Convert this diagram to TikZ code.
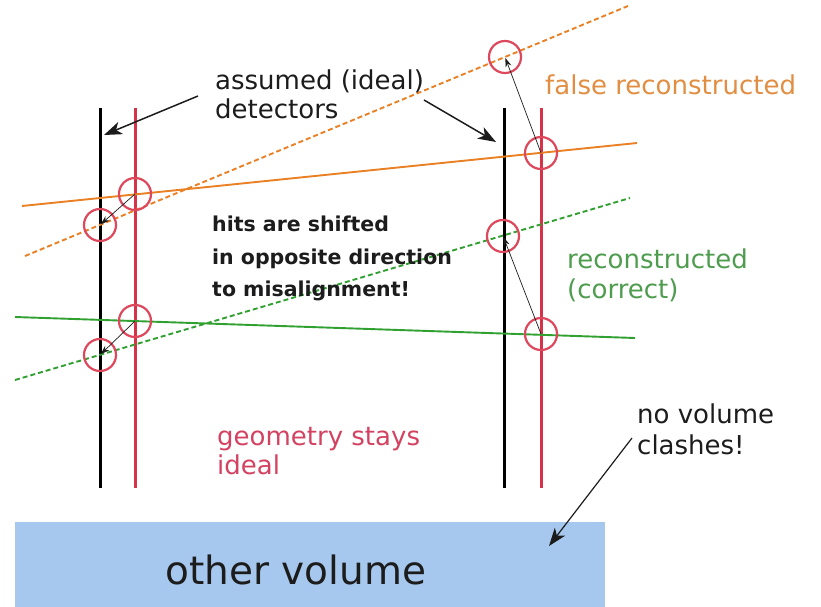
\documentclass[tikz,border=0pt]{standalone}
\usepackage{fontspec}
\setmainfont{DejaVu Sans}
\usetikzlibrary{arrows.meta}
\definecolor{orangeL}{RGB}{234,128,36}
\definecolor{orangeT}{RGB}{226,142,66}
\definecolor{redD}{RGB}{214,50,72}
\definecolor{circ}{RGB}{222,72,92}
\definecolor{greenL}{RGB}{48,160,48}
\definecolor{greenT}{RGB}{78,156,78}
\definecolor{redT}{RGB}{212,66,98}
\definecolor{blueV}{RGB}{166,200,238}
\definecolor{ink}{RGB}{28,28,28}
\tikzset{
  det/.style={line width=3pt},
  trk/.style={line width=1.9pt},
  trkdash/.style={line width=1.9pt, dash pattern=on 5pt off 3pt},
  hit/.style={circle, draw=circ, line width=2.2pt, minimum size=32pt, inner sep=0pt},
  shift arrow/.style={ink, line width=0.7pt, -{Stealth[length=9pt,width=6pt]}, shorten >=1pt},
  big arrow/.style={ink, line width=1.5pt, -{Stealth[length=18pt,width=13pt,inset=5pt]}},
  lbl/.style={anchor=base west, inner sep=0pt, font=\fontsize{26}{29}\selectfont},
  bold lbl/.style={anchor=base west, inner sep=0pt, font=\fontsize{20.5}{24}\selectfont\bfseries, text=ink},
}
\begin{document}
\begin{tikzpicture}[x=1pt,y=-1pt]
\useasboundingbox (0,0) rectangle (821,607);
% other volume
\node[fill=blueV, minimum width=590pt, minimum height=86pt, inner sep=0pt, anchor=north west] (vol) at (15,522) {};
\node[anchor=base, inner sep=0pt, font=\fontsize{39}{42}\selectfont, text=ink] (volt) at (296,584) {other volume};
% detectors
\draw[det, black] (100,108) coordinate (b1t) -- (100,488) coordinate (b1b);
\draw[det, redD] (135,108) coordinate (r1t) -- (135,488) coordinate (r1b);
\draw[det, black] (504,108) coordinate (b2t) -- (504,488) coordinate (b2b);
\draw[det, redD] (541,108) coordinate (r2t) -- (541,488) coordinate (r2b);
% tracks
\draw[trk, orangeL] (22,206) coordinate (oa) -- (637,143) coordinate (ob);
\draw[trkdash, orangeL] (25,256) coordinate (oda) -- (628,6) coordinate (odb);
\draw[trk, greenL] (15,317) coordinate (ga) -- (635,338) coordinate (gb);
\draw[trkdash, greenL] (15,380) coordinate (gda) -- (630,198) coordinate (gdb);
% hits
\node[hit] (hO1) at (135,194) {};
\node[hit] (hO1s) at (100,225) {};
\node[hit] (hO2) at (541,153) {};
\node[hit] (hO2s) at (505,57) {};
\node[hit] (hG1) at (135,321) {};
\node[hit] (hG1s) at (100,355) {};
\node[hit] (hG2) at (541,334) {};
\node[hit] (hG2s) at (503,236) {};
\draw[shift arrow] (hO1.center) -- (hO1s.center);
\draw[shift arrow] (hG1.center) -- (hG1s.center);
\draw[shift arrow] (hO2.center) -- (hO2s.center);
\draw[shift arrow] (hG2.center) -- (hG2s.center);
% labels
\node[lbl, text=ink] (as1) at (215,90) {assumed (ideal)};
\node[lbl, text=ink] (as2) at (215,118) {detectors};
\coordinate (asl) at (198,96);
\coordinate (asr) at (424,100);
\coordinate (tipl) at (104,135);
\coordinate (tipr) at (496,142);
\draw[big arrow] (asl) -- (tipl);
\draw[big arrow] (asr) -- (tipr);
\node[lbl, text=orangeT] (fr) at (545,95) {false reconstructed};
\node[lbl, text=greenT] (rc1) at (567,268) {reconstructed};
\node[lbl, text=greenT] (rc2) at (567,298) {(correct)};
\node[bold lbl] (h1) at (212,231) {hits are shifted};
\node[bold lbl] (h2) at (212,264) {in opposite direction};
\node[bold lbl] (h3) at (212,296) {to misalignment!};
\node[lbl, text=redT] (g1) at (217,445) {geometry stays};
\node[lbl, text=redT] (g2) at (217,474) {ideal};
\node[lbl, text=ink] (nv1) at (637,423) {no volume};
\node[lbl, text=ink] (nv2) at (637,454) {clashes!};
\coordinate (nvs) at (632,438);
\coordinate (nve) at (549,546);
\draw[big arrow, line width=1.2pt] (nvs) -- (nve);
\end{tikzpicture}
\end{document}
